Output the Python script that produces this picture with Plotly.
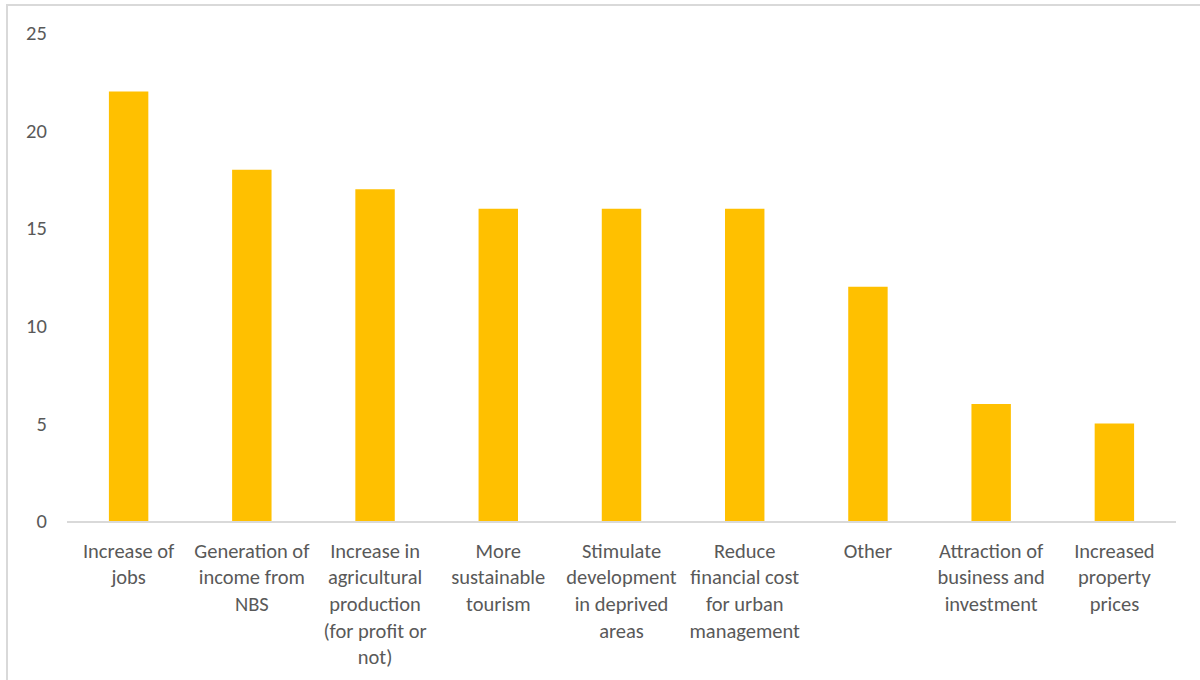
import plotly.graph_objects as go

categories = [
    "Increase of<br>jobs",
    "Generation of<br>income from<br>NBS",
    "Increase in<br>agricultural<br>production<br>(for profit or<br>not)",
    "More<br>sustainable<br>tourism",
    "Stimulate<br>development<br>in deprived<br>areas",
    "Reduce<br>financial cost<br>for urban<br>management",
    "Other",
    "Attraction of<br>business and<br>investment",
    "Increased<br>property<br>prices",
]
values = [22, 18, 17, 16, 16, 16, 12, 6, 5]
y_ticks = [0, 5, 10, 15, 20, 25]

font_family = "Carlito, Calibri, Lato, 'Liberation Sans', Arial, sans-serif"
text_color = "#595959"
fsize = 20.5

fig = go.Figure(
    go.Bar(
        x=list(range(len(categories))),
        y=values,
        marker=dict(color="#FFC000", line=dict(width=0)),
    )
)

fig.update_layout(
    width=1200,
    height=680,
    paper_bgcolor="white",
    plot_bgcolor="white",
    margin=dict(l=67, r=24, t=33, b=159),
    bargap=0.68,
    showlegend=False,
    font=dict(family=font_family, size=fsize, color=text_color),
    shapes=[
        dict(
            type="rect",
            xref="paper",
            yref="paper",
            x0=-0.0541,
            x1=1.2,
            y0=-0.6,
            y1=1.0574,
            line=dict(color="#D9D9D9", width=2),
            fillcolor="rgba(0,0,0,0)",
            layer="below",
        )
    ],
)

fig.update_xaxes(
    tickmode="array",
    tickvals=list(range(len(categories))),
    ticktext=categories,
    range=[-0.5, len(categories) - 0.5],
    showgrid=False,
    zeroline=False,
    showline=True,
    linecolor="#D9D9D9",
    linewidth=2,
    ticks="outside",
    ticklen=10,
    tickcolor="rgba(0,0,0,0)",
    tickangle=0,
    automargin=False,
    tickfont=dict(family=font_family, size=fsize, color=text_color),
)

fig.update_yaxes(
    range=[0, 25],
    tickmode="array",
    tickvals=y_ticks,
    ticktext=[str(v) for v in y_ticks],
    showgrid=False,
    zeroline=False,
    showline=False,
    ticks="outside",
    ticklen=15,
    tickcolor="rgba(0,0,0,0)",
    automargin=False,
    tickfont=dict(family=font_family, size=fsize, color=text_color),
)

fig.write_html(
    "out.html",
    config={"displayModeBar": False},
    post_script="document.body.style.margin='0';document.body.style.overflow='hidden';",
)
